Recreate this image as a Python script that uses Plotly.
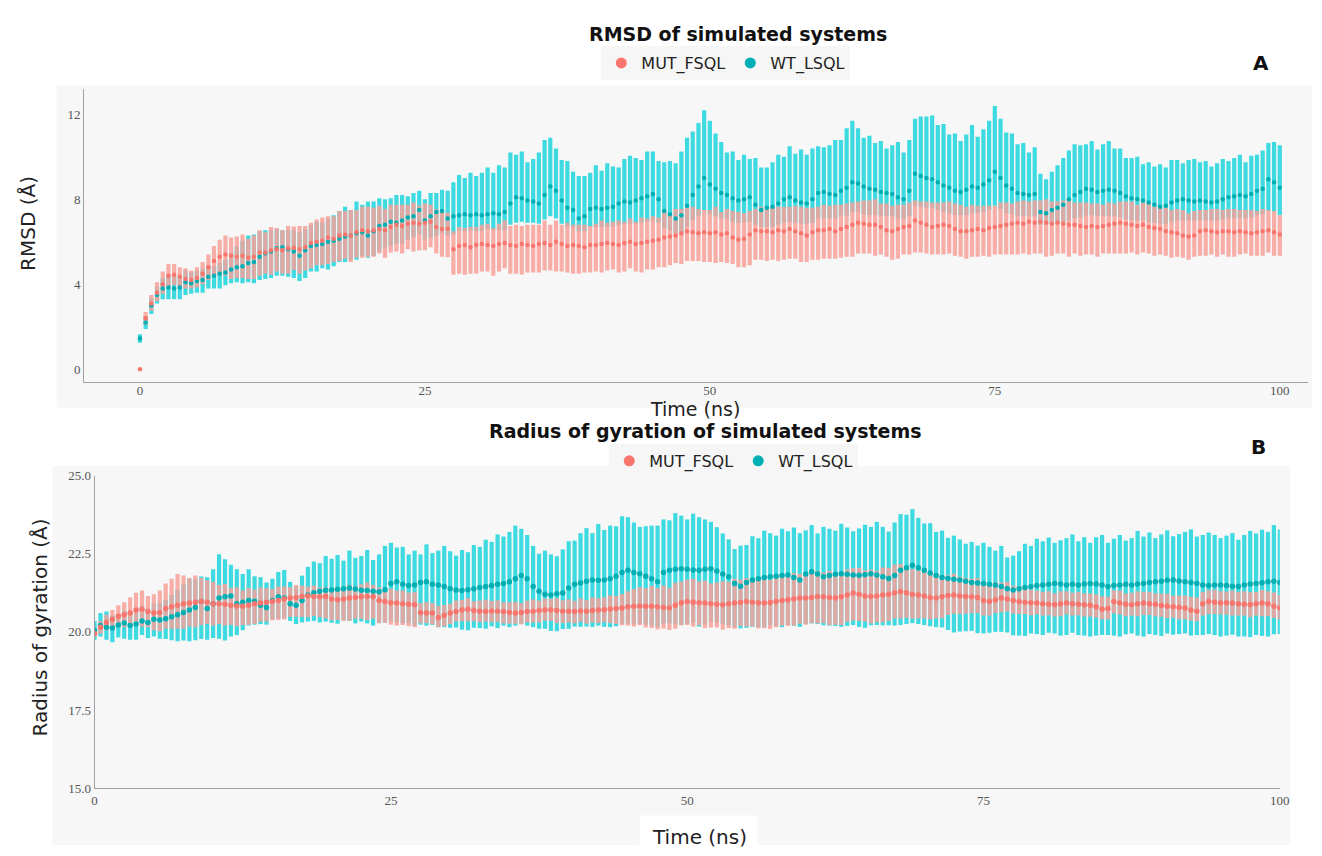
import plotly.graph_objects as go

# ---------------- data (0.5 ns sampling) ----------------
TIME_NS = [round(0.5 * i, 1) for i in range(201)]

MUT_RMSD = [
    0.0, 2.4, 3.1, 3.6, 4.0, 4.4, 4.45, 4.35, 4.25, 4.2,
    4.3, 4.5, 4.8, 5.1, 5.3, 5.4, 5.35, 5.3, 5.35, 5.25,
    5.3, 5.5, 5.5, 5.6, 5.65, 5.6, 5.7, 5.72, 5.65, 5.75,
    5.95, 6.0, 6.05, 6.2, 6.15, 6.3, 6.35, 6.3, 6.45, 6.55,
    6.5, 6.55, 6.6, 6.55, 6.7, 6.8, 6.75, 6.85, 6.9, 6.85,
    6.9, 6.95, 6.7, 6.6, 6.62, 5.65, 5.8, 5.85, 5.75, 5.85,
    5.9, 5.85, 5.8, 5.9, 5.95, 5.85, 5.8, 5.9, 5.85, 5.8,
    5.9, 5.95, 5.85, 6.0, 5.9, 5.8, 5.85, 5.8, 5.75, 5.85,
    5.85, 5.9, 5.95, 5.9, 5.85, 5.95, 6.0, 5.9, 5.95, 6.0,
    6.05, 6.1, 6.2, 6.25, 6.3, 6.4, 6.5, 6.45, 6.4, 6.45,
    6.4, 6.45, 6.35, 6.4, 6.2, 6.1, 6.15, 6.35, 6.55, 6.5,
    6.5, 6.45, 6.55, 6.5, 6.6, 6.5, 6.4, 6.3, 6.45, 6.55,
    6.55, 6.6, 6.5, 6.6, 6.7, 6.8, 6.9, 6.85, 6.8, 6.8,
    6.7, 6.55, 6.5, 6.6, 6.7, 6.75, 7.0, 6.9, 6.8, 6.7,
    6.75, 6.8, 6.75, 6.6, 6.5, 6.5, 6.55, 6.6, 6.55, 6.65,
    6.7, 6.75, 6.8, 6.85, 6.9, 6.85, 6.95, 6.9, 6.95, 6.9,
    6.85, 6.9, 6.85, 6.8, 6.8, 6.75, 6.7, 6.75, 6.7, 6.75,
    6.8, 6.85, 6.9, 6.85, 6.8, 6.75, 6.8, 6.7, 6.65, 6.6,
    6.5, 6.45, 6.4, 6.3, 6.25, 6.3, 6.5, 6.55, 6.5, 6.45,
    6.5, 6.5, 6.45, 6.5, 6.45, 6.4, 6.45, 6.5, 6.55, 6.45,
    6.35,
]
MUT_RMSD_UP = [
    0.0, 0.3, 0.4, 0.5, 0.6, 0.55, 0.5, 0.45, 0.5, 0.45,
    0.5, 0.55, 0.6, 0.7, 0.8, 0.9, 0.85, 0.95, 1.0, 0.9,
    1.0, 1.05, 0.95, 1.1, 1.0, 0.95, 1.05, 1.0, 1.1, 1.0,
    0.95, 1.05, 1.1, 1.0, 1.05, 1.15, 1.1, 1.2, 1.05, 1.1,
    1.15, 1.05, 1.1, 1.0, 1.05, 0.95, 1.0, 0.9, 0.95, 0.85,
    0.9, 0.8, 0.85, 0.8, 0.75, 0.85, 0.9, 0.8, 0.95, 0.85,
    0.9, 1.0, 0.85, 0.95, 1.05, 0.9, 1.0, 0.85, 0.95, 1.0,
    0.9, 1.05, 0.95, 1.0, 0.9, 1.1, 0.95, 1.0, 1.05, 0.9,
    1.0, 1.1, 0.95, 1.05, 1.15, 1.0, 1.1, 1.05, 1.2, 1.1,
    1.15, 1.05, 1.2, 1.1, 1.25, 1.15, 1.1, 1.2, 1.15, 1.05,
    1.1, 1.2, 1.05, 1.15, 1.25, 1.3, 1.2, 1.1, 1.0, 1.15,
    1.05, 1.2, 1.1, 1.15, 1.05, 1.2, 1.25, 1.3, 1.15, 1.1,
    1.2, 1.1, 1.25, 1.15, 1.1, 1.05, 1.0, 1.1, 1.15, 1.2,
    1.1, 1.25, 1.2, 1.15, 1.05, 1.1, 0.95, 1.0, 1.1, 1.15,
    1.1, 1.05, 1.15, 1.2, 1.25, 1.15, 1.2, 1.1, 1.15, 1.05,
    1.0, 1.1, 1.05, 0.95, 1.0, 1.1, 0.95, 1.05, 1.0, 1.1,
    1.05, 1.0, 1.1, 1.15, 1.05, 1.1, 1.15, 1.05, 1.1, 1.0,
    1.05, 0.95, 1.0, 1.05, 1.1, 1.0, 1.05, 1.1, 1.0, 1.05,
    1.1, 1.05, 1.15, 1.2, 1.1, 1.15, 1.0, 0.95, 1.05, 1.1,
    1.0, 1.05, 1.1, 1.0, 1.05, 1.1, 1.0, 1.05, 0.95, 1.0,
    0.9,
]
MUT_RMSD_DN = [
    0.0, 0.3, 0.35, 0.4, 0.45, 0.5, 0.5, 0.45, 0.45, 0.4,
    0.45, 0.5, 0.6, 0.7, 0.9, 1.0, 1.1, 1.0, 1.05, 1.0,
    1.05, 1.1, 1.0, 1.15, 1.05, 1.1, 1.2, 1.05, 1.15, 1.1,
    1.2, 1.1, 1.15, 1.25, 1.1, 1.2, 1.15, 1.25, 1.2, 1.3,
    1.2, 1.25, 1.15, 1.3, 1.2, 1.25, 1.3, 1.2, 1.35, 1.25,
    1.3, 1.2, 1.25, 1.3, 1.35, 1.2, 1.3, 1.4, 1.25, 1.35,
    1.3, 1.25, 1.4, 1.3, 1.2, 1.35, 1.3, 1.45, 1.3, 1.25,
    1.35, 1.3, 1.2, 1.4, 1.3, 1.25, 1.35, 1.3, 1.2, 1.3,
    1.25, 1.35, 1.3, 1.2, 1.3, 1.35, 1.25, 1.3, 1.4, 1.3,
    1.35, 1.3, 1.4, 1.35, 1.3, 1.45, 1.4, 1.35, 1.3, 1.4,
    1.35, 1.45, 1.3, 1.4, 1.25, 1.3, 1.35, 1.45, 1.4, 1.35,
    1.4, 1.3, 1.45, 1.35, 1.4, 1.3, 1.35, 1.25, 1.3, 1.4,
    1.35, 1.4, 1.3, 1.35, 1.4, 1.5, 1.45, 1.4, 1.35, 1.45,
    1.3, 1.25, 1.35, 1.4, 1.3, 1.35, 1.5, 1.4, 1.35, 1.3,
    1.35, 1.4, 1.3, 1.25, 1.2, 1.3, 1.25, 1.3, 1.2, 1.35,
    1.3, 1.35, 1.4, 1.45, 1.5, 1.4, 1.55, 1.45, 1.5, 1.6,
    1.5, 1.45, 1.4, 1.5, 1.35, 1.4, 1.3, 1.35, 1.4, 1.3,
    1.35, 1.4, 1.45, 1.4, 1.3, 1.35, 1.3, 1.25, 1.3, 1.2,
    1.15, 1.2, 1.1, 1.05, 1.1, 1.0, 1.15, 1.2, 1.1, 1.15,
    1.1, 1.2, 1.15, 1.1, 1.0, 1.05, 1.1, 1.15, 1.05, 1.1,
    1.0,
]

WT_RMSD = [
    1.45, 2.2, 3.0, 3.5, 3.8, 3.85, 3.8, 3.85, 4.1, 4.05,
    4.15, 4.2, 4.35, 4.4, 4.5, 4.55, 4.7, 4.8, 4.85, 5.0,
    5.05, 5.3, 5.45, 5.55, 5.7, 5.75, 5.65, 5.55, 5.35, 5.6,
    5.8, 5.85, 5.9, 6.0, 6.05, 6.15, 6.25, 6.3, 6.4, 6.45,
    6.3, 6.5, 6.75, 6.8, 6.95, 6.9, 7.0, 7.15, 7.2, 7.5,
    7.0, 7.2, 7.4, 7.45, 7.1, 7.2, 7.25, 7.3, 7.25, 7.3,
    7.25, 7.3, 7.35, 7.3, 7.4, 7.8, 8.1, 8.05, 7.95, 7.9,
    7.8, 8.2, 8.6, 8.4, 7.95, 7.6, 7.5, 7.1, 7.2, 7.55,
    7.6, 7.55, 7.6, 7.65, 7.8, 7.9, 7.85, 7.95, 8.05, 8.15,
    8.25, 8.0, 7.45, 7.3, 7.1, 7.25, 7.7, 8.2, 8.6, 9.0,
    8.7, 8.5, 8.3, 8.2, 8.05, 7.95, 8.0, 8.1, 7.75, 7.5,
    7.6, 7.65, 7.8, 8.0, 8.1, 7.95, 7.85, 7.8, 8.0, 8.3,
    8.35, 8.25, 8.2, 8.4, 8.55, 8.8, 8.75, 8.6, 8.5, 8.45,
    8.35, 8.3, 8.25, 8.1, 8.0, 8.4, 9.2, 9.1, 9.0, 8.95,
    8.8, 8.65, 8.55, 8.4, 8.35, 8.45, 8.6, 8.55, 8.7, 8.9,
    9.3, 9.0, 8.65, 8.5, 8.3, 8.25, 8.2, 8.25, 7.4, 7.35,
    7.5, 7.6, 7.75, 8.0, 8.2, 8.35, 8.5, 8.45, 8.35, 8.4,
    8.45, 8.4, 8.3, 8.15, 8.05, 8.0, 7.95, 7.85, 7.75, 7.65,
    7.7, 7.85, 7.95, 8.0, 7.95, 7.9, 7.95, 7.9, 7.85, 7.9,
    8.0, 8.1, 8.15, 8.2, 8.15, 8.25, 8.4, 8.5, 8.95, 8.8,
    8.55,
]
WT_RMSD_UP = [
    0.2, 0.3, 0.35, 0.4, 0.5, 0.55, 0.6, 0.5, 0.55, 0.5,
    0.5, 0.55, 0.5, 0.45, 0.5, 0.6, 0.8, 1.0, 1.2, 1.3,
    1.3, 1.2, 1.1, 1.0, 0.9, 0.8, 0.9, 1.0, 1.1, 1.0,
    1.0, 1.1, 1.0, 1.1, 1.2, 1.3, 1.4, 1.2, 1.5, 1.3,
    1.6, 1.4, 1.3, 1.2, 1.1, 1.3, 1.2, 1.0, 1.1, 0.9,
    1.0, 1.1, 0.9, 1.0, 1.3, 1.6, 1.9, 1.7, 2.0, 1.8,
    2.0, 2.2, 1.9, 2.3, 2.1, 2.4, 2.0, 2.2, 1.8, 2.0,
    2.4, 2.6, 2.3, 2.0, 1.9, 2.2, 1.8, 2.0, 1.9, 1.7,
    2.0, 1.8, 2.1, 1.9, 1.7, 2.0, 2.2, 2.0, 1.8, 2.1,
    2.0, 1.8, 2.3, 2.5, 2.6, 3.0, 3.2, 3.0, 3.0, 3.2,
    3.0, 2.6, 2.4, 2.0, 2.2, 1.9, 2.1, 1.8, 2.2, 2.0,
    1.9, 2.1, 2.3, 2.0, 2.4, 2.2, 2.5, 2.3, 2.4, 2.2,
    2.1, 2.3, 2.6, 2.4, 2.8, 2.9, 2.6, 2.3, 2.5, 2.2,
    2.4, 2.1, 2.3, 2.6, 2.2, 2.4, 2.6, 2.8, 2.9, 3.0,
    2.7, 2.9, 2.5, 2.7, 2.4, 2.6, 2.9, 2.4, 2.6, 2.8,
    3.1, 2.8, 2.5, 2.6, 2.3, 2.4, 2.0, 2.2, 1.8, 1.6,
    1.8, 2.0, 2.2, 2.3, 2.4, 2.2, 2.1, 2.3, 2.0, 2.2,
    2.3, 2.0, 2.1, 1.8, 1.9, 2.0, 1.7, 1.9, 1.8, 2.0,
    1.8, 2.0, 1.9, 1.7, 1.9, 2.0, 1.8, 1.9, 1.7, 1.8,
    1.9, 1.7, 1.8, 1.9, 1.6, 1.8, 1.7, 1.8, 1.7, 1.9,
    2.0,
]
WT_RMSD_DN = [
    0.2, 0.3, 0.4, 0.4, 0.5, 0.55, 0.5, 0.55, 0.6, 0.5,
    0.55, 0.6, 0.55, 0.6, 0.7, 0.6, 0.65, 0.7, 0.8, 0.9,
    1.0, 1.1, 1.2, 1.25, 1.3, 1.35, 1.3, 1.25, 1.2, 1.3,
    1.2, 1.25, 1.15, 1.3, 1.2, 1.1, 1.2, 1.15, 1.25, 1.1,
    1.05, 1.15, 1.2, 1.1, 1.15, 1.0, 1.1, 1.05, 1.0, 1.15,
    0.9, 1.0, 1.1, 1.05, 0.8, 0.85, 0.75, 0.8, 0.7, 0.8,
    0.75, 0.7, 0.8, 0.75, 0.85, 1.0, 1.2, 1.1, 1.05, 1.0,
    0.95, 1.15, 1.4, 1.3, 1.1, 0.9, 0.85, 0.6, 0.7, 0.85,
    0.9, 0.85, 0.9, 0.95, 1.0, 1.05, 1.0, 1.1, 1.15, 1.2,
    1.25, 1.1, 0.8, 0.75, 0.7, 0.8, 1.0, 1.2, 1.4, 1.5,
    1.4, 1.3, 1.2, 1.15, 1.1, 1.05, 1.1, 1.15, 0.95, 0.8,
    0.9, 0.95, 1.0, 1.1, 1.15, 1.05, 1.0, 0.95, 1.1, 1.2,
    1.25, 1.15, 1.1, 1.2, 1.3, 1.4, 1.35, 1.3, 1.25, 1.2,
    1.15, 1.1, 1.05, 1.0, 0.95, 1.2, 1.5, 1.45, 1.4, 1.35,
    1.3, 1.25, 1.2, 1.15, 1.1, 1.2, 1.25, 1.2, 1.3, 1.4,
    1.6, 1.45, 1.3, 1.2, 1.1, 1.05, 1.0, 1.05, 0.6, 0.55,
    0.65, 0.75, 0.85, 1.0, 1.1, 1.2, 1.25, 1.2, 1.15, 1.2,
    1.25, 1.2, 1.15, 1.1, 1.05, 1.0, 0.95, 0.9, 0.85, 0.8,
    0.85, 0.9, 0.95, 1.0, 0.95, 0.9, 0.95, 0.9, 0.85, 0.9,
    0.95, 1.0, 1.05, 1.1, 1.05, 1.1, 1.15, 1.2, 1.5, 1.4,
    1.3,
]

MUT_RG = [
    19.95, 20.15, 20.3, 20.4, 20.5, 20.55, 20.6, 20.7, 20.72, 20.65,
    20.6, 20.62, 20.75, 20.8, 20.85, 20.9, 20.92, 20.95, 20.97, 20.95,
    20.9, 20.9, 20.88, 20.85, 20.83, 20.82, 20.85, 20.9, 20.92, 20.95,
    20.97, 21.0, 21.05, 21.08, 21.1, 21.13, 21.15, 21.13, 21.12, 21.13,
    21.05, 21.03, 21.05, 21.08, 21.1, 21.12, 21.13, 21.12, 21.0, 20.97,
    20.93, 20.92, 20.9, 20.88, 20.87, 20.62, 20.6, 20.6, 20.45, 20.52,
    20.6, 20.65, 20.7, 20.72, 20.68, 20.66, 20.65, 20.67, 20.66, 20.65,
    20.62, 20.6, 20.62, 20.65, 20.66, 20.68, 20.7, 20.71, 20.68, 20.66,
    20.66, 20.65, 20.67, 20.66, 20.68, 20.7, 20.71, 20.73, 20.75, 20.76,
    20.8, 20.82, 20.83, 20.82, 20.82, 20.8, 20.78, 20.76, 20.85, 20.93,
    20.97, 20.95, 20.93, 20.92, 20.9, 20.88, 20.87, 20.9, 20.92, 20.95,
    20.97, 20.95, 20.93, 20.92, 20.94, 20.97, 21.0, 21.03, 21.06, 21.08,
    21.08, 21.1, 21.13, 21.12, 21.1, 21.08, 21.12, 21.18, 21.24, 21.2,
    21.15, 21.13, 21.15, 21.18, 21.2, 21.25, 21.29, 21.25, 21.2, 21.18,
    21.15, 21.1, 21.08, 21.12, 21.16, 21.18, 21.15, 21.13, 21.12, 21.1,
    21.0, 20.97, 21.02, 21.08, 21.05, 21.0, 20.97, 20.95, 20.93, 20.92,
    20.9, 20.88, 20.87, 20.9, 20.92, 20.9, 20.88, 20.87, 20.85, 20.8,
    20.72, 20.75, 20.97, 20.92, 20.88, 20.87, 20.9, 20.92, 20.9, 20.88,
    20.84, 20.82, 20.8, 20.78, 20.76, 20.7, 20.66, 20.9, 20.97, 20.95,
    20.92, 20.93, 20.92, 20.9, 20.88, 20.87, 20.9, 20.92, 20.9, 20.82,
    20.76,
]
MUT_RG_UP = [
    0.1, 0.2, 0.25, 0.3, 0.35, 0.4, 0.5, 0.55, 0.6, 0.5,
    0.6, 0.7, 0.8, 0.9, 1.0, 0.9, 0.8, 0.85, 0.75, 0.7,
    0.7, 0.6, 0.65, 0.55, 0.6, 0.5, 0.55, 0.45, 0.5, 0.45,
    0.4, 0.45, 0.4, 0.35, 0.4, 0.35, 0.3, 0.35, 0.3, 0.3,
    0.35, 0.4, 0.38, 0.42, 0.36, 0.4, 0.45, 0.38, 0.42, 0.4,
    0.45, 0.4, 0.42, 0.38, 0.4, 0.3, 0.35, 0.32, 0.38, 0.34,
    0.3, 0.35, 0.32, 0.36, 0.3, 0.34, 0.38, 0.32, 0.35, 0.3,
    0.33, 0.36, 0.3, 0.35, 0.38, 0.32, 0.36, 0.34, 0.4, 0.35,
    0.38, 0.34, 0.4, 0.36, 0.42, 0.38, 0.4, 0.44, 0.4, 0.45,
    0.5, 0.55, 0.6, 0.58, 0.65, 0.6, 0.7, 0.65, 0.72, 0.68,
    0.7, 0.75, 0.68, 0.72, 0.65, 0.7, 0.75, 0.7, 0.78, 0.72,
    0.75, 0.7, 0.8, 0.75, 0.72, 0.78, 0.8, 0.75, 0.82, 0.78,
    0.8, 0.75, 0.82, 0.78, 0.85, 0.8, 0.78, 0.82, 0.8, 0.85,
    0.82, 0.86, 0.8, 0.88, 0.85, 0.9, 0.88, 0.85, 0.8, 0.78,
    0.75, 0.8, 0.72, 0.7, 0.65, 0.68, 0.62, 0.6, 0.58, 0.62,
    0.6, 0.55, 0.58, 0.5, 0.55, 0.48, 0.5, 0.45, 0.42, 0.4,
    0.38, 0.42, 0.36, 0.4, 0.38, 0.35, 0.4, 0.36, 0.38, 0.4,
    0.42, 0.38, 0.36, 0.4, 0.35, 0.38, 0.4, 0.36, 0.38, 0.35,
    0.38, 0.4, 0.36, 0.38, 0.4, 0.42, 0.44, 0.38, 0.36, 0.4,
    0.38, 0.36, 0.4, 0.38, 0.42, 0.4, 0.38, 0.42, 0.4, 0.44,
    0.42,
]
MUT_RG_DN = [
    0.1, 0.2, 0.25, 0.3, 0.35, 0.4, 0.45, 0.5, 0.55, 0.5,
    0.55, 0.6, 0.65, 0.7, 0.75, 0.8, 0.75, 0.8, 0.75, 0.7,
    0.7, 0.65, 0.68, 0.62, 0.65, 0.6, 0.62, 0.65, 0.6, 0.62,
    0.6, 0.62, 0.65, 0.6, 0.62, 0.65, 0.68, 0.62, 0.65, 0.7,
    0.68, 0.65, 0.7, 0.72, 0.68, 0.7, 0.75, 0.7, 0.72, 0.68,
    0.7, 0.72, 0.68, 0.7, 0.72, 0.35, 0.32, 0.36, 0.3, 0.34,
    0.35, 0.32, 0.36, 0.38, 0.34, 0.35, 0.32, 0.36, 0.34, 0.38,
    0.36, 0.34, 0.38, 0.35, 0.36, 0.38, 0.34, 0.36, 0.4, 0.38,
    0.36, 0.38, 0.35, 0.4, 0.38, 0.42, 0.4, 0.45, 0.5, 0.55,
    0.6, 0.65, 0.62, 0.68, 0.7, 0.72, 0.68, 0.7, 0.75, 0.72,
    0.75, 0.78, 0.72, 0.8, 0.76, 0.74, 0.8, 0.78, 0.82, 0.76,
    0.8, 0.78, 0.82, 0.8, 0.85, 0.82, 0.8, 0.84, 0.86, 0.82,
    0.85, 0.82, 0.86, 0.84, 0.88, 0.85, 0.9, 0.86, 0.88, 0.85,
    0.82, 0.86, 0.84, 0.88, 0.85, 0.82, 0.86, 0.8, 0.78, 0.75,
    0.72, 0.7, 0.65, 0.68, 0.62, 0.6, 0.58, 0.55, 0.52, 0.5,
    0.48, 0.45, 0.42, 0.45, 0.4, 0.42, 0.4, 0.38, 0.4, 0.36,
    0.38, 0.35, 0.38, 0.4, 0.36, 0.38, 0.35, 0.38, 0.36, 0.34,
    0.32, 0.35, 0.38, 0.36, 0.38, 0.35, 0.4, 0.38, 0.36, 0.38,
    0.36, 0.38, 0.35, 0.38, 0.36, 0.34, 0.32, 0.38, 0.4, 0.38,
    0.36, 0.38, 0.4, 0.38, 0.36, 0.4, 0.38, 0.42, 0.4, 0.38,
    0.36,
]

WT_RG = [
    20.05, 20.2, 20.15, 20.12, 20.22, 20.28, 20.2, 20.25, 20.35, 20.3,
    20.4, 20.38, 20.42, 20.48, 20.55, 20.62, 20.7, 20.78, 20.97, 20.75,
    20.9, 21.08, 21.12, 21.15, 20.9, 20.95, 21.0, 20.98, 20.85, 20.78,
    21.0, 21.12, 21.08, 20.9, 20.85, 21.0, 21.18, 21.25, 21.3, 21.33,
    21.34, 21.36, 21.38, 21.4, 21.37, 21.33, 21.32, 21.3, 21.28, 21.35,
    21.55, 21.6, 21.52, 21.48, 21.5, 21.58, 21.6, 21.52, 21.5, 21.45,
    21.38, 21.34, 21.32, 21.35, 21.38, 21.42, 21.45, 21.48, 21.52, 21.55,
    21.6, 21.7, 21.8, 21.7, 21.45, 21.3, 21.2, 21.18, 21.22, 21.24,
    21.4, 21.52, 21.56, 21.62, 21.66, 21.65, 21.66, 21.7, 21.78, 21.9,
    21.97, 21.9, 21.86, 21.78, 21.7, 21.6, 21.9, 21.97, 22.0, 22.02,
    22.0, 21.98, 21.97, 22.0, 22.02, 21.95, 21.85, 21.76, 21.55, 21.46,
    21.58, 21.66, 21.7, 21.74, 21.76, 21.78, 21.8, 21.82, 21.74, 21.66,
    21.85, 21.92, 21.85, 21.76, 21.8, 21.84, 21.86, 21.84, 21.82, 21.81,
    21.83, 21.86, 21.82, 21.76, 21.71, 21.8, 21.97, 22.05, 22.13, 22.05,
    21.97, 21.88, 21.8, 21.74, 21.71, 21.68, 21.66, 21.62, 21.58, 21.56,
    21.55, 21.52, 21.5, 21.45, 21.38, 21.34, 21.38, 21.42, 21.45, 21.48,
    21.5, 21.52, 21.55, 21.53, 21.5, 21.52, 21.5, 21.53, 21.55, 21.53,
    21.5, 21.45, 21.48, 21.5, 21.52, 21.5, 21.53, 21.55, 21.58, 21.6,
    21.62, 21.65, 21.66, 21.63, 21.6, 21.58, 21.55, 21.5, 21.48, 21.5,
    21.5, 21.48, 21.46, 21.45, 21.5, 21.53, 21.55, 21.57, 21.6, 21.62,
    21.58,
]
WT_RG_UP = [
    0.3, 0.4, 0.5, 0.4, 0.35, 0.4, 0.45, 0.4, 0.5, 0.45,
    0.5, 0.55, 0.6, 0.7, 0.8, 0.9, 1.0, 0.9, 0.8, 1.0,
    1.1, 1.4, 1.2, 1.0, 1.1, 0.9, 1.0, 0.8, 0.9, 0.8,
    0.7, 0.8, 0.9, 0.7, 0.6, 0.8, 0.9, 1.0, 0.9, 1.1,
    1.0, 1.1, 0.9, 1.2, 1.0, 1.1, 1.3, 1.0, 1.2, 1.4,
    1.3, 1.1, 1.2, 1.0, 1.1, 0.9, 1.2, 1.0, 1.1, 1.3,
    1.2, 1.1, 1.3, 1.2, 1.4, 1.3, 1.5, 1.4, 1.6, 1.5,
    1.6, 1.7, 1.5, 1.4, 1.3, 1.2, 1.4, 1.3, 1.2, 1.4,
    1.5, 1.4, 1.6, 1.7, 1.5, 1.8, 1.6, 1.7, 1.6, 1.8,
    1.7, 1.6, 1.5, 1.6, 1.7, 1.8, 1.7, 1.6, 1.8, 1.7,
    1.6, 1.8, 1.7, 1.6, 1.5, 1.4, 1.3, 1.2, 1.1, 1.3,
    1.2, 1.4, 1.3, 1.5, 1.4, 1.3, 1.5, 1.4, 1.6, 1.5,
    1.4, 1.5, 1.3, 1.6, 1.5, 1.4, 1.6, 1.5, 1.4, 1.5,
    1.6, 1.5, 1.7, 1.6, 1.5, 1.7, 1.8, 1.7, 1.8, 1.6,
    1.5, 1.6, 1.4, 1.5, 1.3, 1.4, 1.3, 1.2, 1.3, 1.2,
    1.3, 1.2, 1.1, 1.3, 1.0, 1.1, 1.2, 1.4, 1.3, 1.5,
    1.4, 1.5, 1.3, 1.4, 1.5, 1.6, 1.4, 1.5, 1.3, 1.5,
    1.6, 1.4, 1.5, 1.6, 1.4, 1.5, 1.7, 1.5, 1.6, 1.4,
    1.5, 1.6, 1.4, 1.5, 1.6, 1.7, 1.5, 1.6, 1.7, 1.6,
    1.5, 1.6, 1.7, 1.5, 1.6, 1.7, 1.6, 1.7, 1.6, 1.8,
    1.7,
]
WT_RG_DN = [
    0.3, 0.35, 0.4, 0.45, 0.4, 0.5, 0.45, 0.5, 0.45, 0.5,
    0.55, 0.6, 0.65, 0.75, 0.85, 0.9, 1.0, 1.05, 1.2, 1.0,
    1.1, 1.3, 1.4, 1.3, 1.0, 0.9, 0.8, 0.75, 0.6, 0.55,
    0.6, 0.7, 0.65, 0.55, 0.6, 0.7, 0.85, 0.9, 1.0, 1.0,
    1.05, 1.1, 1.0, 1.05, 1.1, 1.0, 1.05, 1.1, 1.0, 1.05,
    1.2, 1.3, 1.25, 1.2, 1.3, 1.35, 1.4, 1.3, 1.35, 1.3,
    1.25, 1.2, 1.25, 1.3, 1.25, 1.3, 1.35, 1.3, 1.4, 1.35,
    1.45, 1.5, 1.55, 1.5, 1.3, 1.2, 1.1, 1.15, 1.2, 1.15,
    1.3, 1.35, 1.4, 1.45, 1.5, 1.45, 1.5, 1.55, 1.6, 1.65,
    1.7, 1.65, 1.6, 1.55, 1.5, 1.45, 1.65, 1.7, 1.75, 1.8,
    1.75, 1.7, 1.8, 1.75, 1.7, 1.65, 1.6, 1.55, 1.4, 1.35,
    1.45, 1.5, 1.55, 1.6, 1.55, 1.6, 1.65, 1.6, 1.55, 1.5,
    1.6, 1.65, 1.6, 1.55, 1.6, 1.65, 1.7, 1.65, 1.6, 1.65,
    1.7, 1.65, 1.6, 1.55, 1.5, 1.6, 1.75, 1.8, 1.85, 1.8,
    1.75, 1.7, 1.65, 1.6, 1.65, 1.7, 1.65, 1.6, 1.55, 1.6,
    1.6, 1.55, 1.5, 1.45, 1.4, 1.45, 1.5, 1.55, 1.5, 1.55,
    1.6, 1.55, 1.6, 1.65, 1.6, 1.55, 1.6, 1.65, 1.7, 1.65,
    1.6, 1.55, 1.6, 1.65, 1.6, 1.55, 1.65, 1.7, 1.65, 1.7,
    1.75, 1.7, 1.75, 1.7, 1.65, 1.7, 1.65, 1.6, 1.55, 1.6,
    1.65, 1.6, 1.55, 1.6, 1.65, 1.7, 1.65, 1.7, 1.75, 1.7,
    1.65,
]

SERIES_NAMES = ["MUT_FSQL", "WT_LSQL"]
X_TICKS = [0, 25, 50, 75, 100]
RMSD_TICKS = [0, 4, 8, 12]
RG_TICKS = [15.0, 17.5, 20.0, 22.5, 25.0]

for arr in (MUT_RMSD, MUT_RMSD_UP, MUT_RMSD_DN, WT_RMSD, WT_RMSD_UP, WT_RMSD_DN,
            MUT_RG, MUT_RG_UP, MUT_RG_DN, WT_RG, WT_RG_UP, WT_RG_DN):
    assert len(arr) == len(TIME_NS), len(arr)

# ---------------- styling ----------------
W, H = 1322, 856          # reference frame used to place things (in px of the target picture)
MUT_COLOR = "#F8766D"
WT_COLOR = "#00AFB4"
MUT_BAR = "rgba(248,160,153,0.85)"
WT_BAR = "rgba(0,208,218,0.75)"
SANS = "DejaVu Sans"
SERIF = "Liberation Serif"


def px_x(p):
    return p / W


def px_y(p):
    return 1 - p / H


fig = go.Figure()


def add_panel(mut, mut_up, mut_dn, wt, wt_up, wt_dn, xa, ya, msize):
    # error bars first (WT under MUT), then the mean markers on top
    for y, up, dn, col in ((wt, wt_up, wt_dn, WT_BAR), (mut, mut_up, mut_dn, MUT_BAR)):
        fig.add_trace(go.Scatter(
            x=TIME_NS, y=y, mode="markers", xaxis=xa, yaxis=ya, showlegend=False,
            marker=dict(size=1, color="rgba(0,0,0,0)"), hoverinfo="skip",
            error_y=dict(type="data", symmetric=False, array=up, arrayminus=dn,
                         color=col, thickness=4.2, width=0),
        ))
    for y, col, name in ((wt, WT_COLOR, SERIES_NAMES[1]), (mut, MUT_COLOR, SERIES_NAMES[0])):
        fig.add_trace(go.Scatter(
            x=TIME_NS, y=y, mode="markers", xaxis=xa, yaxis=ya, showlegend=False,
            name=name, marker=dict(size=msize, color=col),
        ))


add_panel(MUT_RMSD, MUT_RMSD_UP, MUT_RMSD_DN, WT_RMSD, WT_RMSD_UP, WT_RMSD_DN, "x", "y", 4.5)
add_panel(MUT_RG, MUT_RG_UP, MUT_RG_DN, WT_RG, WT_RG_UP, WT_RG_DN, "x2", "y2", 5.5)

# legend entries
for leg in ("legend", "legend2"):
    for name, col in ((SERIES_NAMES[0], MUT_COLOR), (SERIES_NAMES[1], WT_COLOR)):
        fig.add_trace(go.Scatter(
            x=[None], y=[None], mode="markers", name=name, legend=leg,
            marker=dict(size=11, color=col), xaxis="x", yaxis="y",
        ))

axis_common = dict(showline=True, linecolor="#a0a0a0", linewidth=1, showgrid=False,
                   zeroline=False, ticks="", tickfont=dict(family=SERIF, size=13, color="#555"))

legend_common = dict(orientation="h", xanchor="center", yanchor="middle",
                     font=dict(family=SANS, size=16, color="#222"), bgcolor="#f6f6f6",
                     itemwidth=30, tracegroupgap=0)

fig.update_layout(
    autosize=True, margin=dict(l=0, r=0, t=0, b=0, pad=0),
    paper_bgcolor="white", plot_bgcolor="rgba(0,0,0,0)",
    xaxis=dict(domain=[px_x(82), px_x(1318)], range=[-4.89, 102.48], tickvals=X_TICKS,
               anchor="y", ticklabelstandoff=-4, **axis_common),
    yaxis=dict(domain=[px_y(382), px_y(83)], range=[-0.615, 13.217], tickvals=RMSD_TICKS,
               anchor="x", **axis_common),
    xaxis2=dict(domain=[px_x(92.5), px_x(1289.5)], range=[0, 100], tickvals=X_TICKS,
                anchor="y2", **axis_common),
    yaxis2=dict(domain=[px_y(795), px_y(477)], range=[15, 25], tickvals=RG_TICKS,
                tickformat=".1f", anchor="x2", **axis_common),
    legend=dict(x=px_x(730), y=px_y(57), **legend_common),
    legend2=dict(x=px_x(738), y=px_y(462), **legend_common),
    showlegend=True,
)

shapes = [
    dict(type="rect", xref="paper", yref="paper", x0=px_x(54), x1=1.0, y0=px_y(408), y1=px_y(80),
         fillcolor="#f7f7f7", line=dict(width=0), layer="below"),
    dict(type="rect", xref="paper", yref="paper", x0=px_x(50), x1=px_x(1300), y0=px_y(853), y1=px_y(467),
         fillcolor="#f7f7f7", line=dict(width=0), layer="below"),
    dict(type="rect", xref="paper", yref="paper", x0=px_x(643), x1=px_x(762), y0=0, y1=px_y(823),
         fillcolor="white", line=dict(width=0), layer="below"),
]
fig.update_layout(shapes=shapes)

ann = []


def text(t, x, y, size, bold=False, angle=0, color="#111", bg=None):
    d = dict(text=f"<b>{t}</b>" if bold else t, xref="paper", yref="paper",
             x=px_x(x), y=px_y(y), xanchor="center", yanchor="middle", showarrow=False,
             textangle=angle, font=dict(family=SANS, size=size, color=color))
    if bg:
        d["bgcolor"] = bg
    ann.append(d)


text("RMSD of simulated systems", 742, 27, 19, bold=True)
text("Radius of gyration of simulated systems", 709, 432, 19, bold=True)
text("A", 1270, 57, 20, bold=True)
text("B", 1268, 448, 20, bold=True)
text("RMSD (Å)", 25, 220, 20, angle=-90, color="#222")
text("Radius of gyration (Å)", 37, 632, 20, angle=-90, color="#222")
text("Time (ns)", 699, 409, 19, color="#222")
text("Time (ns)", 703, 845, 20, color="#222")
fig.update_layout(annotations=ann)

# the figure fills the whole browser window (1322x856)
fig.write_html(
    "out.html",
    default_width="100vw",
    default_height="100vh",
    config={"displayModeBar": False, "responsive": True},
    post_script="document.body.style.margin='0';document.body.style.overflow='hidden';",
)
